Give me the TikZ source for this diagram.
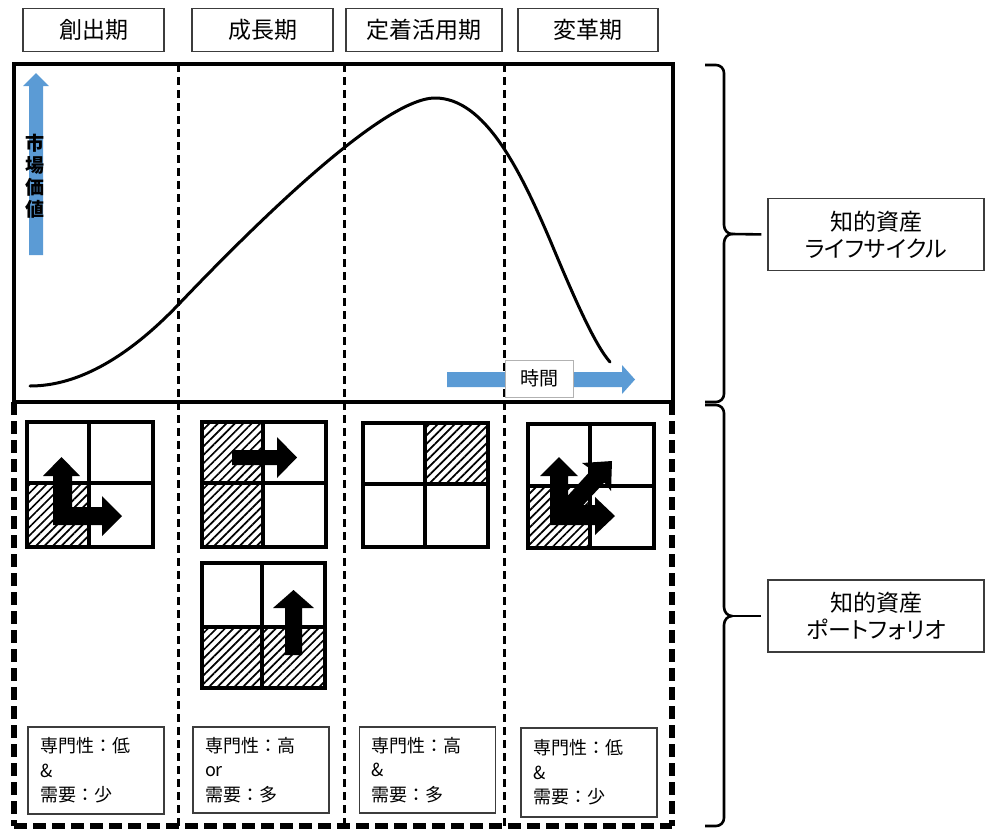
\documentclass[tikz,border=0pt]{standalone}
\usepackage{fontspec}
\setmainfont{Noto Sans CJK JP}
\newfontfamily\jpprop[RawFeature=+palt]{Noto Sans CJK JP}
\usetikzlibrary{patterns.meta}
\definecolor{blueA}{RGB}{91,155,213}
\definecolor{boxgray}{RGB}{60,60,60}
\begin{document}
\begin{tikzpicture}[x=1pt,y=-1pt,
  phase/.style={draw=boxgray,line width=1.2pt,minimum width=#1,minimum height=43pt,inner sep=0pt,font=\fontsize{23}{26}\selectfont},
  divider/.style={line width=3pt,dash pattern=on 8pt off 5pt},
  outerdash/.style={line width=5.5pt,dash pattern=on 13pt off 6pt},
  hatch/.style={pattern={Lines[angle=45,distance=6pt,line width=1.7pt]}},
  gridline/.style={line width=3.5pt},
  blk/.style={fill=black},
  cond/.style={draw=boxgray,line width=1.2pt,text width=112pt,inner xsep=12pt,inner ysep=0pt,align=left,font=\fontsize{18}{24.5}\selectfont},
  side/.style={draw=boxgray,line width=1.2pt,minimum width=216pt,minimum height=72pt,inner sep=0pt,align=center,font=\jpprop\fontsize{23}{27}\selectfont},
  brace/.style={line width=2.6pt,line join=round}
]
\useasboundingbox (0,0) rectangle (987,828);

% phase labels
\node[phase=141pt] (p1) at (93.5,30) {創出期};
\node[phase=141pt] (p2) at (262.5,30) {成長期};
\node[phase=156pt] (p3) at (424,30) {定着活用期};
\node[phase=140pt] (p4) at (588,30) {変革期};

% dividers
\draw[divider] (178,64) -- (178,826);
\draw[divider] (344,64) -- (344,826);
\draw[divider] (504,64) -- (504,826);
\draw[outerdash] (14,402) -- (14,826);
\draw[outerdash] (672,402) -- (672,826);
\draw[outerdash] (14,826) -- (672,826);

% main frame
\draw[line width=3.2pt] (14,64) rectangle (673,402);

% blue arrows
\fill[blueA] (29,255) -- (29,86) -- (23,86) -- (36,73) -- (49,86) -- (43,86) -- (43,255) -- cycle;
\node[align=center,inner sep=0pt,font=\bfseries\fontsize{19}{22}\selectfont] (mv) at (35,176) {市\\場\\価\\値};
\fill[blueA] (447,372) -- (622,372) -- (622,365) -- (635,379.5) -- (622,394) -- (622,387) -- (447,387) -- cycle;

% curve
\draw[line width=3pt,line cap=round] (30,386) .. controls (80,386) and (130,355) .. (178,305)
  .. controls (240,240) and (380,98) .. (435,98)
  .. controls (485,98) and (520,170) .. (550,240)
  .. controls (575,300) and (595,345) .. (610,362);

\node[draw=gray!60,line width=0.8pt,fill=white,minimum width=68pt,minimum height=37pt,inner sep=0pt,font=\fontsize{19}{20}\selectfont] (tm) at (539,378.5) {時間};

% icon 1
\fill[hatch] (27,483) rectangle (89,547);
\fill[blk] (53,525) -- (53,476) -- (43,476) -- (61.5,457) -- (80,476) -- (72,476) -- (72,507) -- (102,507) -- (102,496) -- (122,516) -- (102,536) -- (102,525) -- cycle;
\draw[gridline] (27,422) rectangle (153,547) (89,422) -- (89,547) (27,483) -- (153,483);

% icon 2
\fill[hatch] (202,422) rectangle (263,547);
\draw[gridline] (202,422) rectangle (326,547) (263,422) -- (263,547) (202,483) -- (326,483);
\fill[blk] (232,450) -- (277,450) -- (277,437) -- (297,457.5) -- (277,478) -- (277,465) -- (232,465) -- cycle;

% icon 3
\fill[hatch] (202,627) rectangle (325,688);
\draw[gridline] (202,563) rectangle (325,688) (262,563) -- (262,688) (202,627) -- (325,627);
\fill[blk] (285,655) -- (285,608) -- (273,608) -- (293.5,590) -- (314,608) -- (302,608) -- (302,655) -- cycle;

% icon 4
\fill[hatch] (425,423) rectangle (488,484);
\draw[gridline] (363,423) rectangle (488,547) (425,423) -- (425,547) (363,484) -- (488,484);

% icon 5
\fill[hatch] (528,486) rectangle (590,548);
\draw[gridline] (528,424) rectangle (654,548) (590,424) -- (590,548) (528,486) -- (654,486);
\fill[blk] (550,525) -- (550,476) -- (540,476) -- (559,457) -- (578,476) -- (568,476) -- (568,505) -- (595,505) -- (595,497) -- (615,516) -- (595,535) -- (595,525) -- cycle;
\fill[blk] (562,502) -- (591.5,469.7) -- (582,463) -- (612,461) -- (611,491) -- (604.3,482.5) -- (575,514) -- cycle;

% condition boxes
\node[cond,minimum height=87pt] (c1) at (96,770.5) {専門性：低\\\&\\需要：少};
\node[cond,minimum height=86pt] (c2) at (261,770) {専門性：高\\or\\需要：多};
\node[cond,minimum height=86pt] (c3) at (427.5,770) {専門性：高\\\&\\需要：多};
\node[cond,minimum height=89pt] (c4) at (589,772.5) {専門性：低\\\&\\需要：少};

% side labels
\node[side] (r1) at (876,234.5) {知的資産\\ライフサイクル};
\node[side] (r2) at (876,616) {知的資産\\ポートフォリオ};

% braces
\coordinate (t1) at (732,234);
\coordinate (t2) at (732,616);
\draw[brace] (705,65) -- (716,65) to[out=0,in=90] (724,73) -- (724,225) to[out=-90,in=180] (t1) to[out=180,in=90] (724,243) -- (724,394) to[out=-90,in=0] (716,402) -- (705,402);
\draw[brace] (705,405) -- (716,405) to[out=0,in=90] (724,413) -- (724,607) to[out=-90,in=180] (t2) to[out=180,in=90] (724,625) -- (724,818) to[out=-90,in=0] (716,826) -- (705,826);
\draw[brace,shorten >=6pt] (t1) -- (r1.west);
\draw[brace,shorten >=6pt] (t2) -- (r2.west);
\end{tikzpicture}
\end{document}
